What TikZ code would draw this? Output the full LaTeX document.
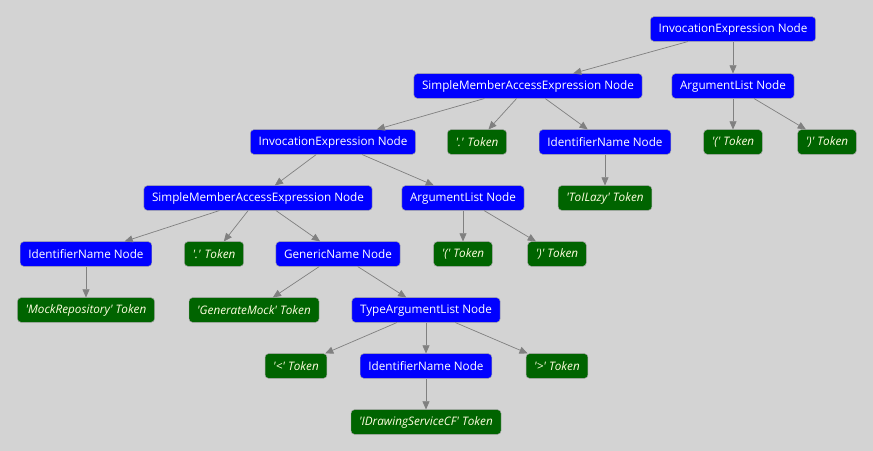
\documentclass[tikz,border=0pt]{standalone}
\usepackage{fontspec}
\setmainfont{Open Sans}
\usetikzlibrary{arrows.meta}

\definecolor{bgGray}{RGB}{211,211,211}
\definecolor{nodeBlue}{RGB}{0,0,255}
\definecolor{tokGreen}{RGB}{0,100,0}
\definecolor{edgeGray}{RGB}{128,128,128}
\definecolor{tokText}{RGB}{255,255,224}

\newcommand{\q}{\textquotesingle}

\tikzset{
  synnode/.style={draw=gray!70, fill=nodeBlue, text=white, rounded corners=3pt,
    minimum height=21pt, inner xsep=7pt, font=\fontsize{10}{12}\selectfont},
  syntok/.style={draw=gray!70, fill=tokGreen, text=tokText, rounded corners=3pt,
    minimum height=21pt, inner xsep=7pt, font=\fontsize{10}{12}\selectfont\itshape},
  edge/.style={draw=edgeGray, line width=0.6pt, -{Triangle[length=7pt,width=6pt]}}
}

\begin{document}
\begin{tikzpicture}[x=0.03cm, y=-0.03cm]

  \fill[bgGray] (0,0) rectangle (873,451);
  \useasboundingbox (0,0) rectangle (873,451);

  \node[synnode] (inv1)  at (733,29)  {InvocationExpression Node};

  \node[synnode] (sma1)  at (528,86)  {SimpleMemberAccessExpression Node};
  \node[synnode] (arg1)  at (733,86)  {ArgumentList Node};

  \node[synnode] (inv2)  at (333,142) {InvocationExpression Node};
  \node[syntok]  (dot1)  at (477,142) {\q.\q{} Token};
  \node[synnode] (id1)   at (605,142) {IdentifierName Node};
  \node[syntok]  (lp1)   at (733,142) {\q(\q{} Token};
  \node[syntok]  (rp1)   at (827,142) {\q)\q{} Token};

  \node[synnode] (sma2)  at (258,198) {SimpleMemberAccessExpression Node};
  \node[synnode] (arg2)  at (463,198) {ArgumentList Node};
  \node[syntok]  (lazy)  at (605,198) {\q ToILazy\q{} Token};

  \node[synnode] (id2)   at (86,254)  {IdentifierName Node};
  \node[syntok]  (dot2)  at (214,254) {\q.\q{} Token};
  \node[synnode] (gen)   at (338,254) {GenericName Node};
  \node[syntok]  (lp2)   at (463,254) {\q(\q{} Token};
  \node[syntok]  (rp2)   at (557,254) {\q)\q{} Token};

  \node[syntok]  (mock)  at (86,310)  {\q MockRepository\q{} Token};
  \node[syntok]  (gmock) at (254,310) {\q GenerateMock\q{} Token};
  \node[synnode] (targs) at (426,310) {TypeArgumentList Node};

  \node[syntok]  (lt)    at (296,366) {\q<\q{} Token};
  \node[synnode] (id3)   at (426,366) {IdentifierName Node};
  \node[syntok]  (gt)    at (557,366) {\q>\q{} Token};

  \node[syntok]  (draw)  at (426,422) {\q IDrawingServiceCF\q{} Token};

  \foreach \a/\b in {inv1/sma1, inv1/arg1,
                     sma1/inv2, sma1/dot1, sma1/id1, arg1/lp1, arg1/rp1,
                     inv2/sma2, inv2/arg2, id1/lazy,
                     sma2/id2, sma2/dot2, sma2/gen, arg2/lp2, arg2/rp2,
                     id2/mock, gen/gmock, gen/targs,
                     targs/lt, targs/id3, targs/gt, id3/draw}
    \draw[edge] (\a) -- (\b);

\end{tikzpicture}
\end{document}
